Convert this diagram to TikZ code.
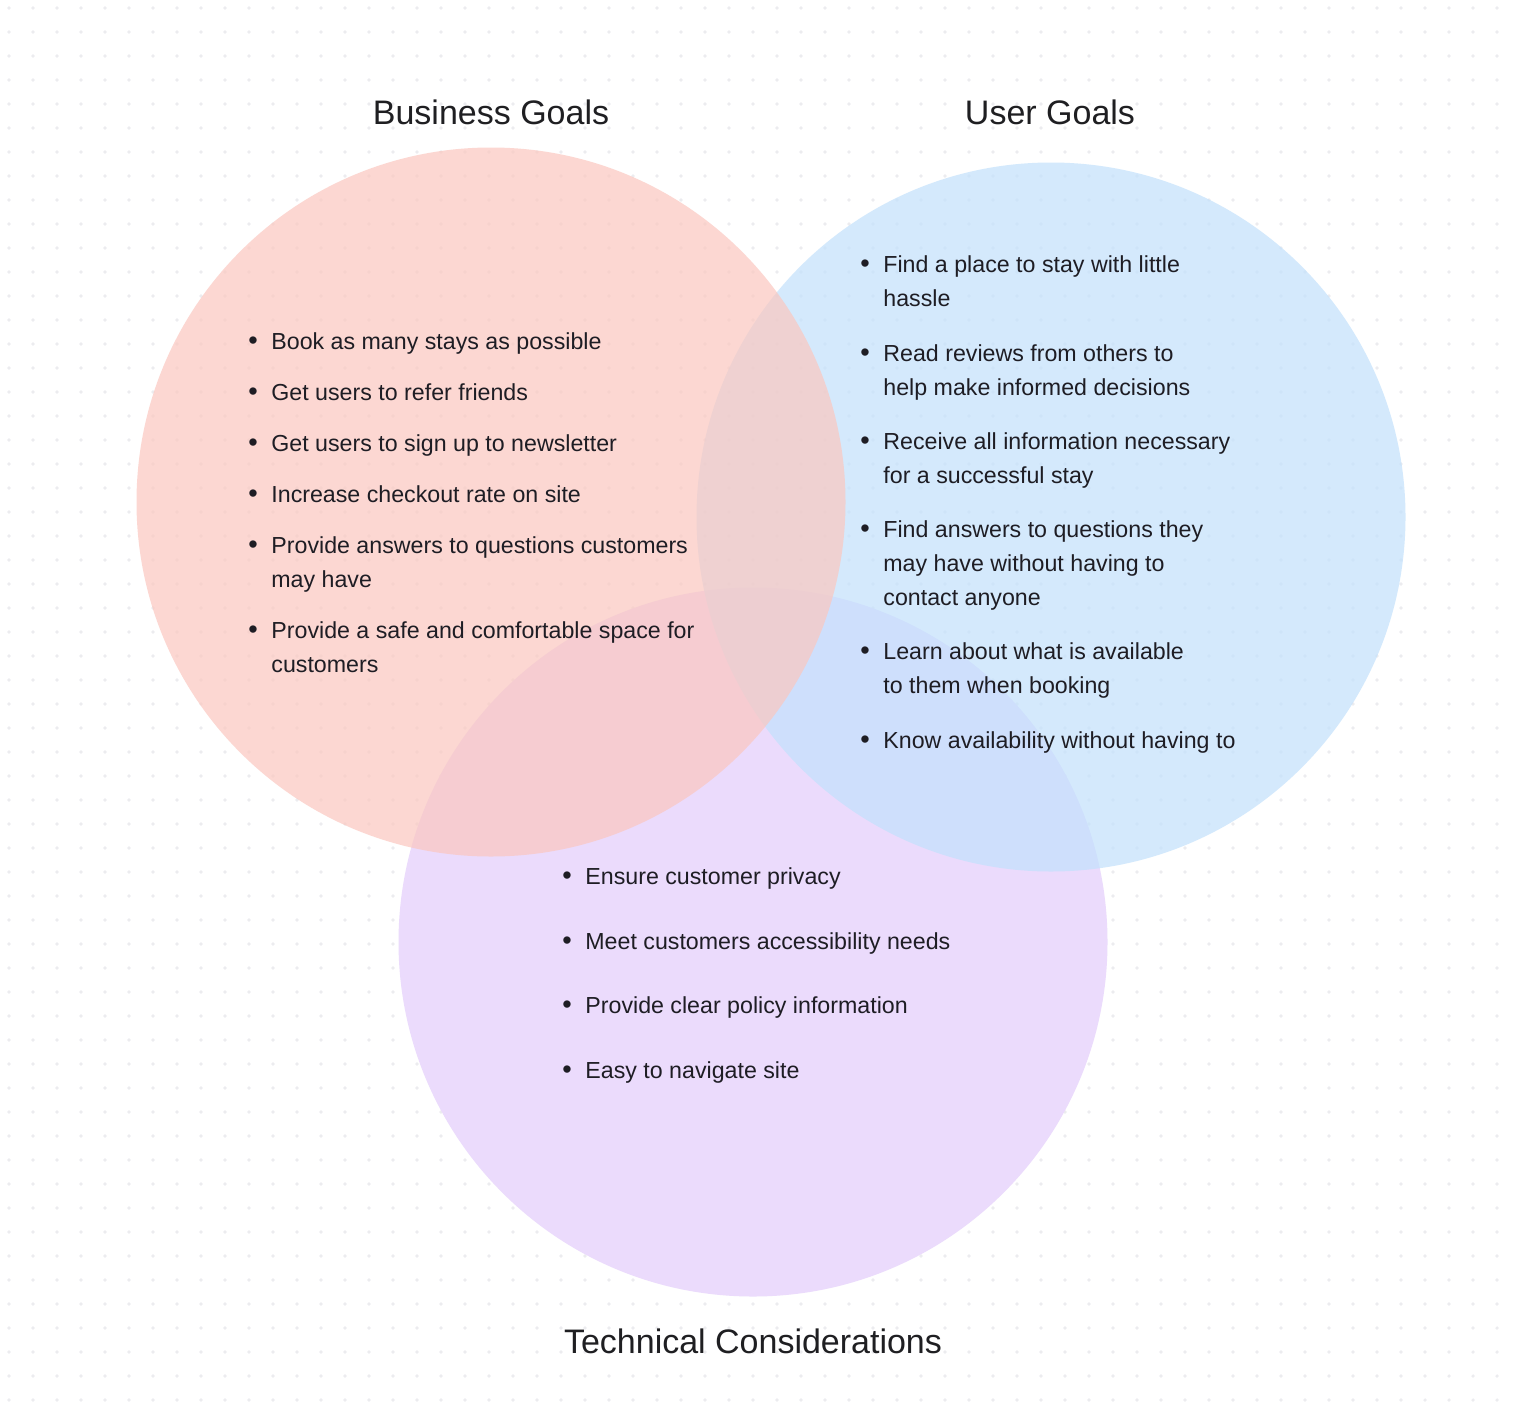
\documentclass[tikz,border=0pt]{standalone}
\usepackage{fontspec}
\setmainfont{Liberation Sans}
\usepackage{xcolor}
\definecolor{vennRose}{HTML}{FBC7BF}
\definecolor{vennBleu}{HTML}{C2E1FC}
\definecolor{vennMauve}{HTML}{EBDBFC}
\definecolor{vennEncre}{HTML}{1E1D24}
\definecolor{vennTitre}{HTML}{1F1F22}
\definecolor{vennGrille}{HTML}{ECECEF}
\usepackage{tikz}
\usetikzlibrary{positioning}
%% a bullet text keeps the baseline of its first line
\newcommand{\lignesPoint}[1]{\begin{tabular}[t]{@{}l@{}}#1\end{tabular}}
\tikzset{
  %% ── Circles ──────────────────────────────────────────────────────────
  %% The two upper sets are translucent so that the overlaps read as a
  %% blend; the lower one is the base layer.
  cercle/.style      = {circle, draw=none, inner sep=0pt,
                        minimum size=354.5pt},
  cercleRose/.style  = {cercle, fill=vennRose, fill opacity=0.7},
  cercleBleu/.style  = {cercle, fill=vennBleu, fill opacity=0.7},
  cercleMauve/.style = {cercle, fill=vennMauve},
  %%
  %% ── Text ─────────────────────────────────────────────────────────────
  titreCercle/.style = {anchor=base, inner sep=0pt, text=vennTitre,
                        font=\fontsize{17}{20}\selectfont},
  puce/.style        = {anchor=base, inner sep=0pt, text=vennEncre,
                        font=\fontsize{13.5}{17}\selectfont},
  point/.style       = {anchor=base west, inner sep=0pt, text=vennEncre,
                        font=\fontsize{11.6}{17}\selectfont},
}

\begin{document}
\begin{tikzpicture}[x=0.5pt, y=-0.5pt]

\fill[white] (0,0) rectangle (1513,1424);
\useasboundingbox (0,0) rectangle (1513,1424);

%% dotted canvas
\foreach \gx in {9,33,...,1505}
  \foreach \gy in {8,32,...,1420}
    \fill[vennGrille] (\gx,\gy) circle[radius=0.9pt];

\node[cercleMauve] (tech) at (753,942) {};
\node[cercleBleu]  (user) at (1051,517) {};
\node[cercleRose]  (biz)  at (491,502) {};

\node[titreCercle] (titreBiz)  at (491,124)  {Business Goals};
\node[titreCercle] (titreUser) at (1050,124) {User Goals};
\node[titreCercle] (titreTech) at (753,1353) {Technical Considerations};

\foreach \txt/\ligne [count=\i] in {
    Book as many stays as possible/349,
    Get users to refer friends/400,
    Get users to sign up to newsletter/451,
    Increase checkout rate on site/502,
    {Provide answers to questions customers\\may have}/553,
    {Provide a safe and comfortable space for\\customers}/638} {
  \node[puce]  (puceBiz\i)  at (253,\ligne) {•};
  \node[point] (pointBiz\i) at (271,\ligne) {\lignesPoint{\txt}};
}

\foreach \txt/\ligne [count=\i] in {
    {Find a place to stay with little\\hassle}/272,
    {Read reviews from others to\\help make informed decisions}/361,
    {Receive all information necessary\\for a successful stay}/449,
    {Find answers to questions they\\may have without having to\\contact anyone}/537,
    {Learn about what is available\\to them when booking}/659,
    Know availability without having to/748} {
  \node[puce]  (puceUser\i)  at (865,\ligne) {•};
  \node[point] (pointUser\i) at (883,\ligne) {\lignesPoint{\txt}};
}

\foreach \txt/\ligne [count=\i] in {
    Ensure customer privacy/884,
    Meet customers accessibility needs/949,
    Provide clear policy information/1013,
    Easy to navigate site/1078} {
  \node[puce]  (puceTech\i)  at (567,\ligne) {•};
  \node[point] (pointTech\i) at (585,\ligne) {\lignesPoint{\txt}};
}

\end{tikzpicture}
\end{document}
